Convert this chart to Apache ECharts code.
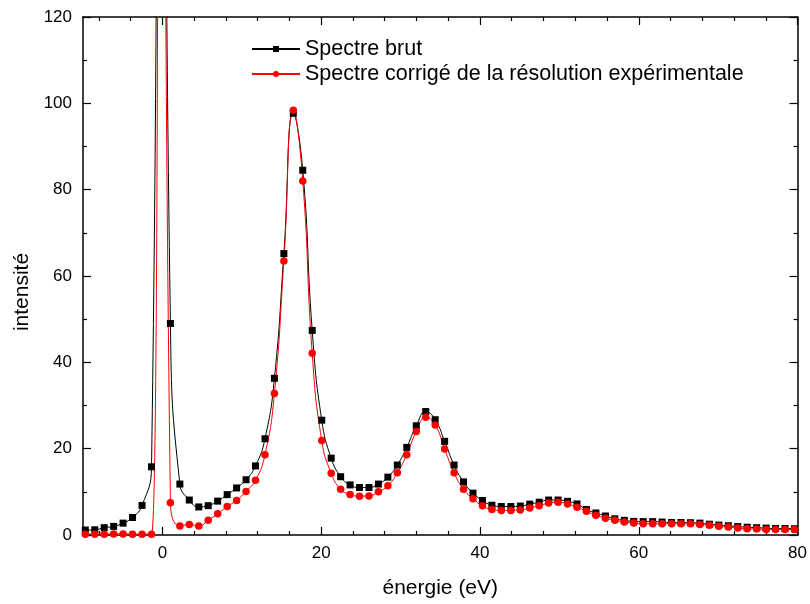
<!DOCTYPE html>
<html>
<head>
<meta charset="utf-8">
<script src="https://cdn.jsdelivr.net/npm/echarts@6/dist/echarts.min.js"></script>
<style>
  html, body { margin: 0; padding: 0; background: #fff; }
  #main { width: 810px; height: 604px; }
</style>
</head>
<body>
<div id="main"></div>
<script>
var myChart = echarts.init(document.getElementById('main'));

// energie (eV) des points mesures
var energies = [-9.71, -8.52, -7.33, -6.14, -4.95, -3.76, -2.56, -1.37, -0.18, 1.01,
    2.20, 3.39, 4.58, 5.77, 6.96, 8.16, 9.35, 10.54, 11.73, 12.92,
    14.11, 15.30, 16.49, 17.68, 18.87, 20.07, 21.26, 22.45, 23.64, 24.83,
    26.02, 27.21, 28.40, 29.59, 30.78, 31.98, 33.17, 34.36, 35.55, 36.74,
    37.93, 39.12, 40.31, 41.50, 42.69, 43.89, 45.08, 46.27, 47.46, 48.65,
    49.84, 51.03, 52.22, 53.41, 54.60, 55.80, 56.99, 58.18, 59.37, 60.56,
    61.75, 62.94, 64.13, 65.32, 66.51, 67.70, 68.90, 70.09, 71.28, 72.47,
    73.66, 74.85, 76.04, 77.23, 78.42, 79.61];

var brut = [1.15, 1.2, 1.7, 2.0, 2.75, 4.05, 6.85, 15.8, 300, 49.0,
    11.8, 8.1, 6.5, 6.8, 7.85, 9.35, 10.9, 12.8, 16.0, 22.3,
    36.3, 65.2, 97.7, 84.5, 47.4, 26.6, 17.8, 13.5, 11.6, 11.0,
    11.0, 11.8, 13.4, 16.2, 20.3, 25.3, 28.6, 26.7, 21.7, 16.2,
    12.3, 9.7, 8.0, 6.9, 6.6, 6.6, 6.7, 7.15, 7.6, 8.1,
    8.1, 7.8, 7.2, 5.9, 5.1, 4.4, 3.75, 3.4, 3.15, 3.1,
    3.1, 3.0, 2.9, 2.9, 2.85, 2.75, 2.5, 2.3, 2.15, 1.95,
    1.8, 1.7, 1.6, 1.5, 1.5, 1.45];

var corrige = [0.2, 0.2, 0.2, 0.25, 0.25, 0.2, 0.2, 0.2, 330, 7.5,
    2.1, 2.45, 2.1, 3.4, 4.9, 6.6, 8.0, 10.1, 12.7, 18.6,
    32.8, 63.5, 98.4, 82.0, 42.1, 21.9, 14.3, 10.6, 9.4, 9.0,
    9.05, 10.0, 11.4, 14.4, 18.6, 24.0, 27.3, 25.5, 19.9, 14.4,
    10.6, 8.4, 6.75, 5.9, 5.7, 5.7, 5.8, 6.25, 6.8, 7.4,
    7.6, 7.2, 6.45, 5.5, 4.6, 3.9, 3.4, 3.0, 2.8, 2.6,
    2.6, 2.6, 2.6, 2.6, 2.6, 2.45, 2.25, 2.0, 1.85, 1.6,
    1.45, 1.4, 1.3, 1.25, 1.25, 1.25];

var xMajorTicks = [0, 20, 40, 60, 80];
var xMinorTicks = [-8, -4, 4, 8, 12, 16, 24, 28, 32, 36, 44, 48, 52, 56, 64, 68, 72, 76];

function pairs(xs, ys) {
    return xs.map(function (x, i) { return [x, ys[i]]; });
}

var font = "'Liberation Sans', Arial, sans-serif";
var axisLine = { show: true, onZero: false, lineStyle: { color: '#000', width: 1.5 } };

function xAxisDef(position, ticks, len, withLabels, showLine) {
    return {
        type: 'value', min: -10, max: 80, position: position,
        axisLine: showLine ? axisLine : { show: false, onZero: false },
        axisTick: { show: true, inside: true, length: len, customValues: ticks, lineStyle: { color: '#000', width: 1.2 } },
        axisLabel: withLabels
            ? { show: true, customValues: ticks, color: '#000', fontSize: 17, fontFamily: font, margin: 10 }
            : { show: false },
        splitLine: { show: false }
    };
}

function yAxisDef(position, withLabels) {
    return {
        type: 'value', min: 0, max: 120, interval: 20, position: position,
        axisLine: axisLine,
        axisTick: { show: true, inside: true, length: 8, lineStyle: { color: '#000', width: 1.2 } },
        minorTick: { show: true, splitNumber: 2, length: 4, lineStyle: { color: '#000', width: 1.2 } },
        axisLabel: withLabels
            ? { show: true, color: '#000', fontSize: 17, fontFamily: font, margin: 11 }
            : { show: false },
        splitLine: { show: false }
    };
}

var xMain = xAxisDef('bottom', xMajorTicks, 8, true, true);
xMain.name = 'énergie (eV)';
xMain.nameLocation = 'middle';
xMain.nameGap = 43;
xMain.nameTextStyle = { color: '#000', fontSize: 21, fontFamily: font };

var yMain = yAxisDef('left', true);
yMain.name = 'intensité';
yMain.nameLocation = 'middle';
yMain.nameGap = 48;
yMain.nameTextStyle = { color: '#000', fontSize: 21, fontFamily: font, padding: [0, 32, 0, 0] };

var option = {
    backgroundColor: '#fff',
    animation: false,
    grid: { left: 83, right: 10, top: 17, bottom: 66 },
    legend: {
        orient: 'vertical',
        left: 246,
        top: 33,
        itemWidth: 48,
        itemHeight: 7.5,
        itemGap: 3,
        textStyle: { color: '#000', fontSize: 21.5, fontFamily: font },
        data: ['Spectre brut', 'Spectre corrigé de la résolution expérimentale']
    },
    xAxis: [
        xMain,
        xAxisDef('bottom', xMinorTicks, 4, false, false),
        xAxisDef('top', xMajorTicks, 8, false, true),
        xAxisDef('top', xMinorTicks, 4, false, false)
    ],
    yAxis: [yMain, yAxisDef('right', false)],
    series: [
        {
            name: 'Spectre brut',
            type: 'line',
            smooth: 0.5,
            symbol: 'rect',
            symbolSize: 7,
            color: '#000',
            lineStyle: { color: '#000', width: 1 },
            itemStyle: { color: '#000' },
            data: pairs(energies, brut)
        },
        {
            name: 'Spectre corrigé de la résolution expérimentale',
            type: 'line',
            smooth: 0.5,
            symbol: 'circle',
            symbolSize: 7.5,
            color: '#ff0000',
            lineStyle: { color: '#ff0000', width: 1 },
            itemStyle: { color: '#ff0000' },
            data: pairs(energies, corrige)
        }
    ]
};

myChart.setOption(option);
</script>
</body>
</html>
